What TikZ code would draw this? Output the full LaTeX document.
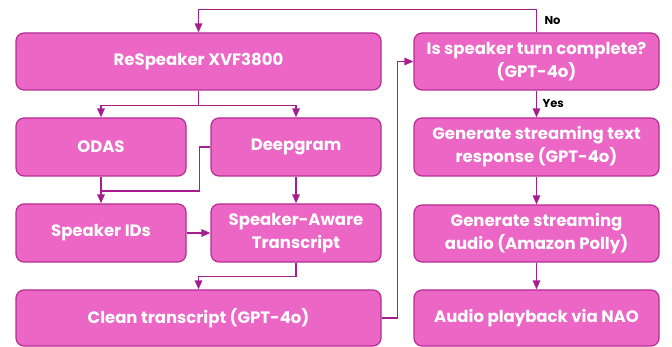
\documentclass[tikz,border=0pt]{standalone}
\usepackage{fontspec}
\setmainfont{Poppins}
\usetikzlibrary{arrows.meta}
\definecolor{boxfill}{HTML}{EB66C5}
\definecolor{boxline}{HTML}{B52D93}
\definecolor{flowline}{HTML}{A61E8D}
\tikzset{stage/.style = {draw=boxline, fill=boxfill, line width=1.2pt,
                         rounded corners=8pt, text=white, align=center,
                         font=\fontsize{16.5}{23}\selectfont\bfseries,
                         inner sep=0pt}}
\tikzset{flow/.style = {draw=flowline, line width=1.4pt,
                        -{Triangle[length=9pt,width=7.5pt]}}}
\tikzset{plain/.style = {draw=flowline, line width=1.4pt}}
\tikzset{tag/.style = {font=\fontsize{11.5}{13}\selectfont\bfseries, text=black}}

\begin{document}
\begin{tikzpicture}[x=1pt, y=-1pt]
    \useasboundingbox (0,0) rectangle (672,347);
    % left column
    \node[stage, minimum width=365, minimum height=57] (resp) at (198.5,61.5) {ReSpeaker XVF3800};
    \node[stage, minimum width=170, minimum height=58] (odas) at (101,147) {ODAS};
    \node[stage, minimum width=170, minimum height=58] (deep) at (296,147) {Deepgram};
    \node[stage, minimum width=170, minimum height=58] (ids) at (101,233) {Speaker IDs};
    \node[stage, minimum width=170, minimum height=58] (aware) at (296,233) {Speaker-Aware\\Transcript};
    \node[stage, minimum width=365, minimum height=56] (clean) at (198.5,318) {Clean transcript (GPT-4o)};
    % right column
    \node[stage, minimum width=245, minimum height=57] (turn) at (536.5,61.5) {Is speaker turn complete?\\(GPT-4o)};
    \node[stage, minimum width=245, minimum height=58] (gtext) at (536.5,147) {Generate streaming text\\response (GPT-4o)};
    \node[stage, minimum width=245, minimum height=57] (gaudio) at (536.5,233.5) {Generate streaming\\audio (Amazon Polly)};
    \node[stage, minimum width=245, minimum height=56] (play) at (536.5,318) {Audio playback via NAO};
    \coordinate (join) at (101,191);

    \draw[flow] (resp.south) -- ++(0,15) -| (odas.north);
    \draw[flow] (resp.south) -- ++(0,15) -| (deep.north);
    \draw[flow] (odas) -- (ids);
    \draw[plain] (deep.west) -- ++(-11,0) |- (join);
    \draw[flow] (deep) -- (aware);
    \draw[flow] (ids) -- (aware);
    \draw[flow] (aware.south) -- ++(0,14) -| (clean.north);
    \draw[flow] (clean.east) -- ++(16,0) |- (turn.west);
    \draw[flow] (turn.north) -- ++(0,-23) node[tag, anchor=north west, xshift=4pt, yshift=-3pt] {No} -| (resp.north);
    \draw[flow] (turn) -- node[tag, right, xshift=2pt] {Yes} (gtext);
    \draw[flow] (gtext) -- (gaudio);
    \draw[flow] (gaudio) -- (play);
\end{tikzpicture}
\end{document}
